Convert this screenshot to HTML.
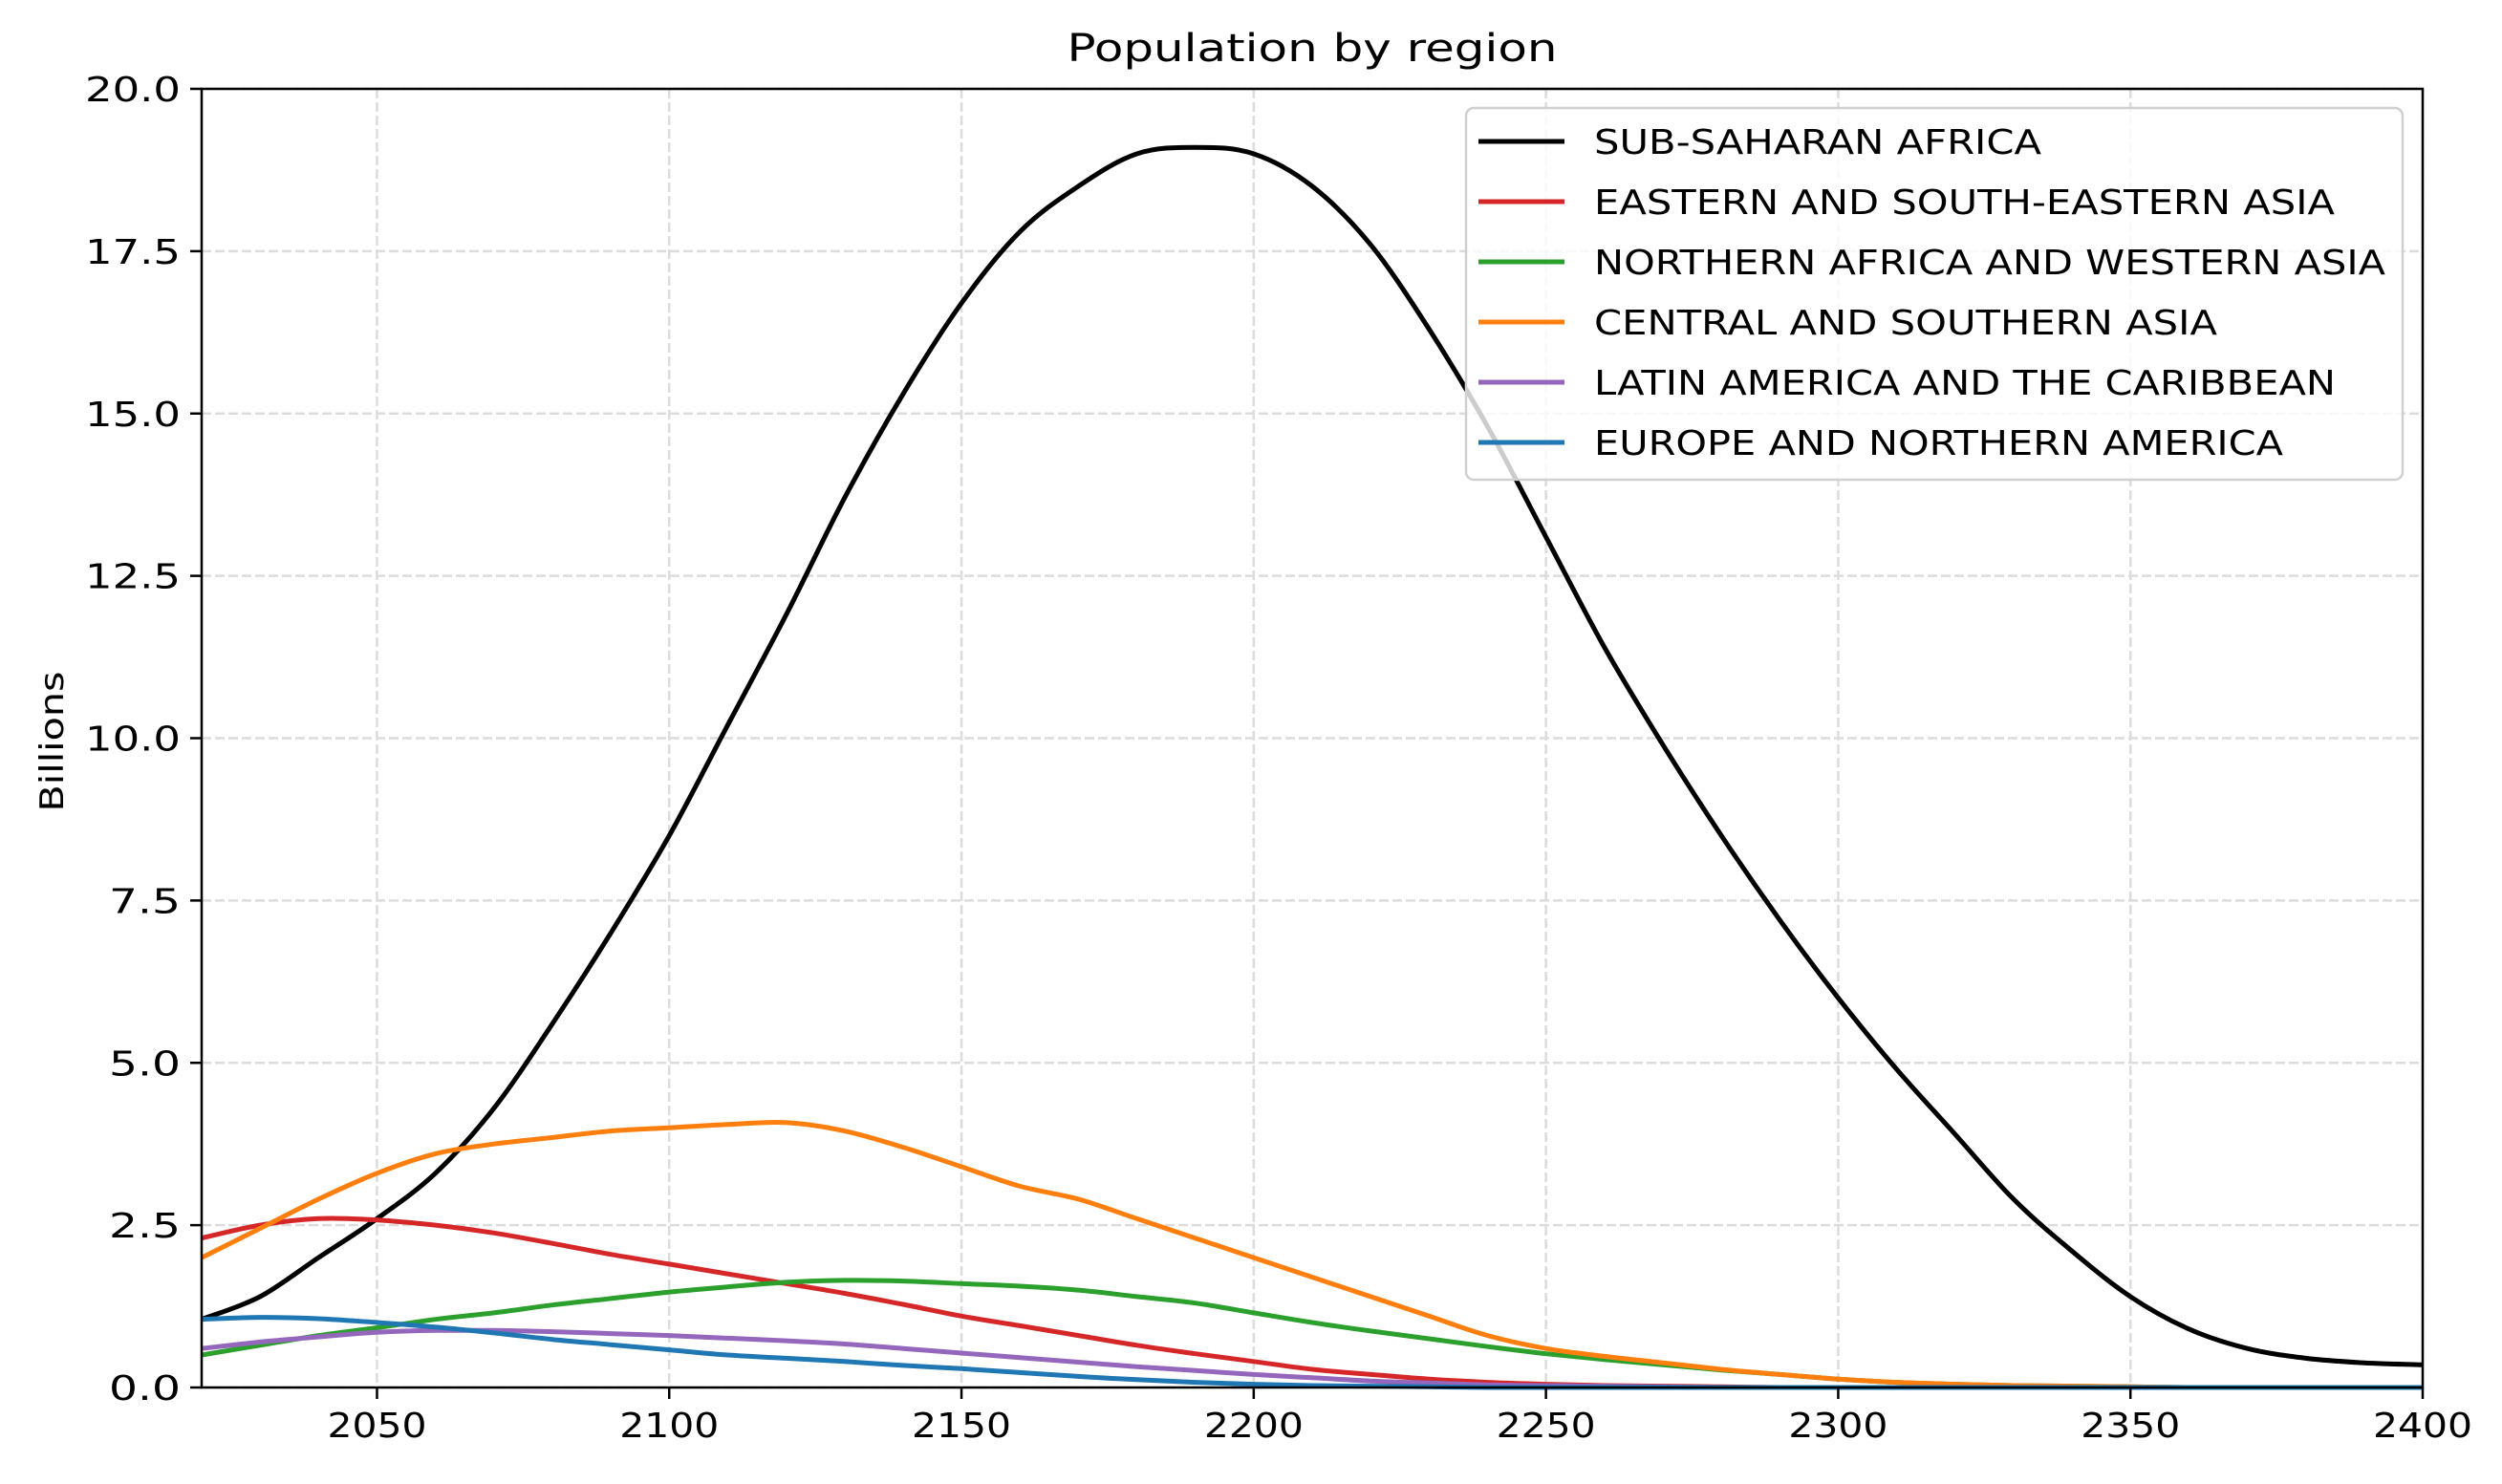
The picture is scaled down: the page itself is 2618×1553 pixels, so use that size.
<!DOCTYPE html>
<html><head><meta charset="utf-8"><style>
html,body{margin:0;padding:0;background:#fff}
svg{display:block;font-family:"DejaVu Sans","Liberation Sans",sans-serif}
</style></head><body>
<svg id="chart" width="2618" height="1553" viewBox="0 0 2618 1553" xmlns="http://www.w3.org/2000/svg">
<rect width="2618" height="1553" fill="#fff"/>
<g id="grid"></g><g id="series"></g><g id="axes"></g><g id="legend"></g>
<text x="1373" y="64" font-size="40" text-anchor="middle" textLength="513" lengthAdjust="spacingAndGlyphs">Population by region</text>
<text x="0" y="0" font-size="34" text-anchor="middle" transform="translate(66,776) rotate(-90)" textLength="147" lengthAdjust="spacingAndGlyphs">Billions</text>
</svg>
<script>
const years=[];for(let y=2020;y<=2400;y+=10)years.push(y);
const seriesNames=["SUB-SAHARAN AFRICA","EASTERN AND SOUTH-EASTERN ASIA","NORTHERN AFRICA AND WESTERN ASIA","CENTRAL AND SOUTHERN ASIA","LATIN AMERICA AND THE CARIBBEAN","EUROPE AND NORTHERN AMERICA"];
const seriesColors=["#000000","#d62728","#2ca02c","#ff7f0e","#9467bd","#1f77b4"];
const subSaharan=[1.05,1.4,2.0,2.6,3.3,4.3,5.6,7.0,8.5,10.2,11.9,13.7,15.3,16.7,17.8,18.5,19.0,19.1,19.0,18.5,17.6,16.3,14.8,13.1,11.4,9.9,8.5,7.2,6.0,4.9,3.9,2.9,2.1,1.4,0.9,0.6,0.45,0.38,0.35];
const eastAsia=[2.3,2.5,2.6,2.58,2.5,2.38,2.22,2.05,1.9,1.75,1.6,1.45,1.28,1.1,0.95,0.8,0.65,0.52,0.4,0.28,0.2,0.13,0.08,0.05,0.03,0.02,0.01,0,0,0,0,0,0,0,0,0,0,0,0];
const nAfrica=[0.5,0.65,0.8,0.92,1.05,1.15,1.27,1.37,1.47,1.55,1.62,1.65,1.64,1.6,1.56,1.5,1.4,1.3,1.15,1.0,0.87,0.75,0.63,0.52,0.43,0.35,0.27,0.2,0.13,0.08,0.05,0.03,0.02,0.01,0,0,0,0,0];
const centralAsia=[2.0,2.45,2.9,3.3,3.6,3.75,3.85,3.95,4.0,4.05,4.08,3.95,3.7,3.4,3.1,2.9,2.6,2.3,2.0,1.7,1.4,1.1,0.8,0.6,0.48,0.38,0.28,0.2,0.13,0.08,0.05,0.03,0.02,0.01,0,0,0,0,0];
const latinAmerica=[0.6,0.7,0.78,0.85,0.88,0.88,0.86,0.83,0.8,0.76,0.72,0.67,0.6,0.53,0.46,0.39,0.32,0.26,0.2,0.15,0.1,0.07,0.04,0.03,0.02,0.01,0,0,0,0,0,0,0,0,0,0,0,0,0];
const europe=[1.05,1.08,1.06,1.0,0.93,0.84,0.74,0.66,0.58,0.5,0.45,0.4,0.34,0.29,0.23,0.17,0.12,0.08,0.05,0.03,0.02,0.01,0,0,0,0,0,0,0,0,0,0,0,0,0,0,0,0,0];
const allSeries=[subSaharan,eastAsia,nAfrica,centralAsia,latinAmerica,europe];
const xTicks=[2050,2100,2150,2200,2250,2300,2350,2400];
const yTicks=[0,2.5,5,7.5,10,12.5,15,17.5,20];
const yTickLabels=["0.0","2.5","5.0","7.5","10.0","12.5","15.0","17.5","20.0"];

const L=211,R=2535,T=93,B=1452;
const xS=v=>L+(v-2020)/(2400-2020)*(R-L);
const yS=v=>B-v/20*(B-T);
const NS="http://www.w3.org/2000/svg";
function mk(tag,attrs,parent){const e=document.createElementNS(NS,tag);for(const k in attrs)e.setAttribute(k,attrs[k]);parent.appendChild(e);return e;}
const grid=document.getElementById('grid'),axes=document.getElementById('axes'),ser=document.getElementById('series'),leg=document.getElementById('legend');

xTicks.forEach(t=>{
  const x=xS(t);
  const g=mk('line',{x1:x,x2:x,y1:T,y2:B,stroke:'#dcdcdc','stroke-width':2.5,'stroke-dasharray':'10,4'},grid);
  
  
  const tk=mk('line',{x1:x,x2:x,y1:B,y2:B+12,stroke:'#000','stroke-width':2.5},axes);
  
  
  const tx=mk('text',{x:x,y:B+52,'font-size':36,'text-anchor':'middle',textLength:104,lengthAdjust:'spacingAndGlyphs'},axes);
  tx.textContent=String(t);
  
  
});
yTicks.forEach((t,i)=>{
  const y=yS(t);
  const g=mk('line',{x1:L,x2:R,y1:y,y2:y,stroke:'#dcdcdc','stroke-width':2.5,'stroke-dasharray':'10,4'},grid);
  
  
  const tk=mk('line',{x1:L-12,x2:L,y1:y,y2:y,stroke:'#000','stroke-width':2.5},axes);
  
  
  const lab=yTickLabels[i];
  const tx=mk('text',{x:L-22,y:y+13,'font-size':36,'text-anchor':'end',textLength:lab.length*25,lengthAdjust:'spacingAndGlyphs'},axes);
  tx.textContent=lab;
  
  
});
const frame=mk('rect',{x:L,y:T,width:R-L,height:B-T,fill:'none',stroke:'#000','stroke-width':2.5},axes);



function smoothPath(pts){
  let d='M'+pts[0][0].toFixed(1)+','+pts[0][1].toFixed(1);
  for(let i=0;i<pts.length-1;i++){
    const p0=pts[Math.max(0,i-1)],p1=pts[i],p2=pts[i+1],p3=pts[Math.min(pts.length-1,i+2)];
    let c1y=p1[1]+(p2[1]-p0[1])/6, c2y=p2[1]-(p3[1]-p1[1])/6;
    const lo=Math.min(p1[1],p2[1]),hi=Math.max(p1[1],p2[1]);
    if(p1[1]===p2[1]){c1y=p1[1];c2y=p2[1];}
    const c1x=p1[0]+(p2[0]-p0[0])/6, c2x=p2[0]-(p3[0]-p1[0])/6;
    c1y=Math.min(B,c1y);c2y=Math.min(B,c2y);
    d+='C'+c1x.toFixed(1)+','+c1y.toFixed(1)+' '+c2x.toFixed(1)+','+c2y.toFixed(1)+' '+p2[0].toFixed(1)+','+p2[1].toFixed(1);
  }
  return d;
}
allSeries.forEach((vals,i)=>{
  const pts=vals.map((v,j)=>[xS(years[j]),yS(v)]);
  const p=mk('path',{d:smoothPath(pts),fill:'none',stroke:seriesColors[i],'stroke-width':5,'stroke-linejoin':'round'},ser);
  
  
});

const lb=mk('rect',{x:1534,y:113,width:980,height:389,rx:8,fill:'#fff','fill-opacity':0.8,stroke:'#d0d0d0','stroke-width':2.5},leg);


const legW=[468,775,828,652,776,721];
seriesNames.forEach((n,i)=>{
  const y=148+i*63;
  const ln=mk('line',{x1:1547,x2:1637,y1:y,y2:y,stroke:seriesColors[i],'stroke-width':5},leg);
  
  
  const tx=mk('text',{x:1668,y:y+13,'font-size':36,textLength:legW[i],lengthAdjust:'spacingAndGlyphs'},leg);
  tx.textContent=n;
  
  
});
</script>
</body></html>
